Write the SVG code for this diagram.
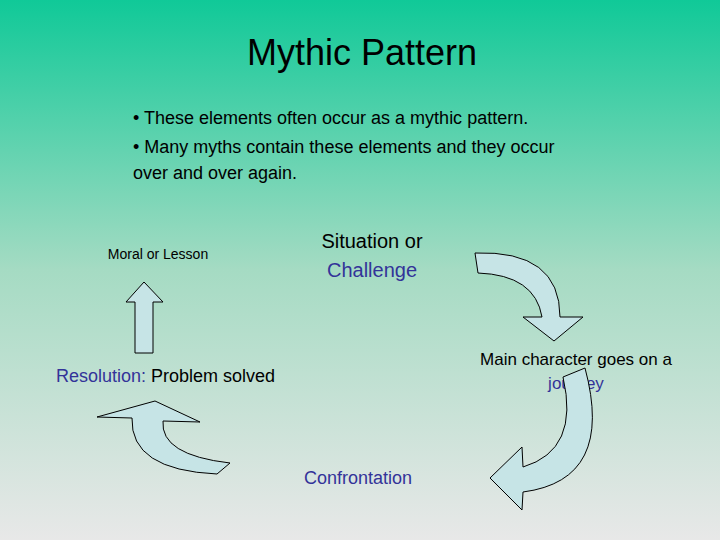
<svg xmlns="http://www.w3.org/2000/svg" width="720" height="540" viewBox="0 0 720 540">
<defs>
<linearGradient id="bg" x1="0" y1="0" x2="0" y2="1">
<stop offset="0" stop-color="#10c998"/>
<stop offset="0.5" stop-color="#a5dbc3"/>
<stop offset="1" stop-color="#e8e8e8"/>
</linearGradient>
<style>
text{font-family:"Liberation Sans",Arial,sans-serif;fill:#000}
.b{fill:#333399}
.arr{fill:#c6e4e6;stroke:#000;stroke-width:1}
</style>
</defs>
<rect width="720" height="540" fill="url(#bg)"/>
<text x="362" y="65" font-size="36" text-anchor="middle">Mythic Pattern</text>
<text font-size="18"><tspan x="133" y="124">• These elements often occur as a mythic pattern.</tspan><tspan x="133" y="153">• Many myths contain these elements and they occur</tspan><tspan x="133" y="179">over and over again.</tspan></text>
<g id="moral"><text x="158" y="259" font-size="14" text-anchor="middle">Moral or Lesson</text></g>
<g id="situation"><text x="372" y="248" font-size="20" text-anchor="middle">Situation or</text><text x="372" y="277" font-size="20" text-anchor="middle" class="b">Challenge</text></g>
<g id="journey"><text x="576" y="365" font-size="17" text-anchor="middle">Main character goes on a</text><text x="576" y="389" font-size="17" text-anchor="middle" class="b">journey</text></g>
<g id="confrontation"><text x="358" y="484" font-size="18" text-anchor="middle" class="b">Confrontation</text></g>
<g id="resolution"><text x="56" y="382" font-size="18"><tspan class="b">Resolution:</tspan> Problem solved</text></g>
<g id="connectors">
<path class="arr" d="M475,253 Q560,250 560,317 L583,317 L554,341 L523,317 L542,317 Q535,275 478,273 Z"/>
<path class="arr" d="M585,368 Q615,480 523,492 L522,510 L490,478 L522,447 L523,467 Q580,450 563,377 Z"/>
<path class="arr" d="M135,353 L135,302 L126,302 L144,282 L163,302 L153,302 L153,353 Z"/>
<path class="arr" d="M217,474 Q130,470 132,418 L97,417 L155,401 L200,422 L163,421 Q160,455 230,463 Z"/>
</g>
</svg>
